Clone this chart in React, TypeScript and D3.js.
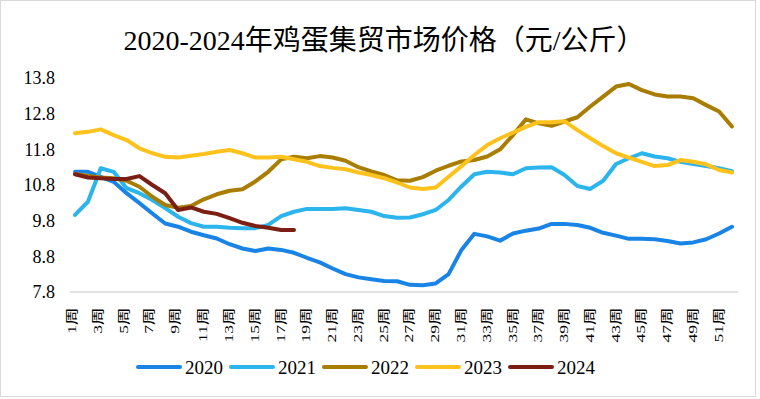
import { useMemo } from "react";
import * as d3 from "d3";

const WIDTH = 760;
const HEIGHT = 399;

const WEEKS = d3.range(1, 53).map((w) => `${w}周`);
const Y_TICKS = [7.8, 8.8, 9.8, 10.8, 11.8, 12.8, 13.8];

const YEARS = ["2020", "2021", "2022", "2023", "2024"];
const COLORS = ["#1984E6", "#2CB4EC", "#A97D02", "#FFC21C", "#7B1F14"];

const V2020 = [
  11.17, 11.17, 11.03, 10.89, 10.57, 10.29, 10.0, 9.72, 9.63, 9.49,
  9.39, 9.3, 9.14, 9.02, 8.95, 9.02, 8.98, 8.9, 8.76, 8.63,
  8.46, 8.3, 8.21, 8.16, 8.11, 8.1, 8.0, 7.99, 8.04, 8.3,
  8.98, 9.43, 9.36, 9.24, 9.44, 9.52, 9.58, 9.71, 9.71, 9.68,
  9.6, 9.46, 9.38, 9.29, 9.29, 9.28, 9.23, 9.16, 9.19, 9.28,
  9.44, 9.63,
];
const V2021 = [
  9.96, 10.33, 11.27, 11.17, 10.71, 10.57, 10.38, 10.15, 9.91, 9.73,
  9.63, 9.63, 9.6, 9.59, 9.59, 9.68, 9.93, 10.05, 10.13, 10.13,
  10.13, 10.15, 10.1, 10.05, 9.93, 9.88, 9.89, 9.98, 10.1, 10.38,
  10.76, 11.1, 11.17, 11.15, 11.1, 11.27, 11.29, 11.3, 11.08, 10.77,
  10.69, 10.92, 11.39, 11.55, 11.69, 11.6, 11.55, 11.45, 11.39, 11.33,
  11.27, 11.19,
];
const V2022 = [
  11.11, 11.05, 11.01, 10.99, 10.92, 10.75, 10.47, 10.24, 10.16, 10.21,
  10.4, 10.54, 10.64, 10.68, 10.9, 11.17, 11.52, 11.59, 11.55, 11.61,
  11.57, 11.48, 11.3, 11.18, 11.08, 10.93, 10.92, 11.02, 11.2, 11.34,
  11.46, 11.5, 11.6, 11.8, 12.2, 12.64, 12.53, 12.46, 12.58, 12.7,
  13.0, 13.28, 13.56, 13.63, 13.46, 13.34, 13.28, 13.28, 13.23, 13.04,
  12.86, 12.44,
];
const V2023 = [
  12.25, 12.29, 12.36, 12.2, 12.06, 11.83, 11.69, 11.59, 11.57, 11.62,
  11.67, 11.73, 11.78, 11.69, 11.57, 11.57, 11.59, 11.52, 11.45, 11.33,
  11.28, 11.24, 11.15, 11.08, 10.99, 10.87, 10.73, 10.69, 10.73, 11.03,
  11.33, 11.64, 11.92, 12.11, 12.27, 12.43, 12.56, 12.56, 12.59, 12.34,
  12.11, 11.89, 11.69, 11.57, 11.45, 11.33, 11.36, 11.5, 11.45, 11.38,
  11.22, 11.15,
];
const V2024 = [
  11.1, 11.01, 10.99, 10.97, 10.97, 11.05, 10.8, 10.57, 10.1, 10.17,
  10.05, 9.99, 9.87, 9.74, 9.65, 9.6, 9.54, 9.54,
];

const SERIES = [V2020, V2021, V2022, V2023, V2024];

const SERIF = "'Liberation Serif', 'Times New Roman', 'Noto Sans CJK SC', serif";

export default function App() {
  const x = useMemo(
    () => d3.scalePoint<string>().domain(WEEKS).range([68.6, 738.4]).padding(0.5),
    []
  );
  const y = useMemo(
    () => d3.scaleLinear().domain([7.8, 13.8]).range([292, 78]),
    []
  );

  const line = d3
    .line<number>()
    .x((_, i) => x(WEEKS[i]) as number)
    .y((d) => y(d));

  return (
    <svg
      width={WIDTH}
      height={HEIGHT}
      style={{ position: "absolute", left: 0, top: 0, background: "#fff" }}
      fontFamily={SERIF}
    >
      <rect x={0.5} y={0.5} width={755} height={396} fill="#fff" stroke="#d9d9d9" />

      <text x={384} y={50} textAnchor="middle" fontSize={28} fill="#000">
        2020-2024年鸡蛋集贸市场价格（元/公斤）
      </text>

      {/* y labels */}
      {Y_TICKS.map((t) => (
        <text key={t} x={55} y={y(t)} dy="0.35em" textAnchor="end" fontSize={18} fill="#000">
          {t.toFixed(1)}
        </text>
      ))}

      {/* x axis, every other week labelled, text rotated and stretched */}
      <line x1={70} x2={738} y1={292} y2={292} stroke="#d9d9d9" strokeWidth={1.5} />
      {WEEKS.map((w, i) =>
        i % 2 === 0 ? (
          <text
            key={w}
            transform={`translate(${(x(w) as number) - (i < 9 ? 3.5 : 1)},307.5) rotate(-90) scale(1.35,1)`}
            dy="0.35em"
            textAnchor="end"
            fontSize={13}
            fill="#000"
          >
            {w}
          </text>
        ) : null
      )}

      {/* lines */}
      {SERIES.map((s, i) => (
        <path
          key={YEARS[i]}
          d={line(s) ?? ""}
          fill="none"
          stroke={COLORS[i]}
          strokeWidth={4}
          strokeLinejoin="round"
          strokeLinecap="round"
        />
      ))}

      {/* legend */}
      {YEARS.map((yr, i) => {
        const lx = 138 + i * 93;
        return (
          <g key={yr}>
            <line
              x1={lx}
              x2={lx + 42}
              y1={367}
              y2={367}
              stroke={COLORS[i]}
              strokeWidth={4}
              strokeLinecap="round"
            />
            <text x={lx + 47} y={367} dy="0.35em" fontSize={19} fill="#000">
              {yr}
            </text>
          </g>
        );
      })}
    </svg>
  );
}
